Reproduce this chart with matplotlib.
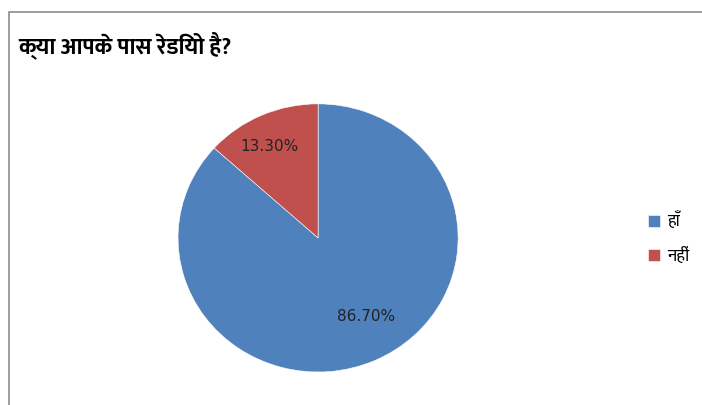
import matplotlib.pyplot as plt
import numpy as np
from matplotlib import font_manager, ft2font
from matplotlib.patches import Rectangle

# data
labels = ["हाँ", "नहीं"]
values = [86.7, 13.3]
colors = ["#4F81BD", "#C0504D"]
title = "क्या आपके पास रेडियो है?"


def find_deva_fonts():
    # every installed font file that has Devanagari glyphs
    found = []
    for path in font_manager.findSystemFonts():
        try:
            f = ft2font.FT2Font(path)
            cmap = f.get_charmap()
        except Exception:
            continue
        if 0x0915 in cmap and 0x093E in cmap:
            found.append(path)
    return found


deva_paths = find_deva_fonts()
bold = None
other = None
for p in deva_paths:
    name = font_manager.FontProperties(fname=p).get_name()
    if "bold" in p.lower():
        bold = bold or name
    else:
        other = other or name
bold = bold or other

fam = ([bold] if bold else []) + ["DejaVu Sans"]
plt.rcParams["font.family"] = fam

fig = plt.figure(figsize=(7.02, 4.05), dpi=100)

# outer chart frame (cut off on right and bottom as in the source)
fig.patches.append(Rectangle((9 / 702, -0.05), 1.0, 1 - 12 / 405 + 0.05,
                             transform=fig.transFigure, fill=False,
                             edgecolor="#8c8c8c", linewidth=1.2))

fig.text(18 / 702, 1 - 45 / 405, title, fontsize=16.5, fontweight="bold",
         va="center", ha="left")

ax = fig.add_axes([0.2536, 0.0815, 0.399, 0.662])
wedges, texts, autotexts = ax.pie(values, colors=colors, startangle=90,
                                  counterclock=False, autopct="%.2f%%",
                                  pctdistance=0.7,
                                  wedgeprops=dict(edgecolor="white", linewidth=0.4),
                                  textprops=dict(fontsize=11, color="#222222",
                                                 family="DejaVu Sans"))
ax.set_aspect("auto")
ax.set_xlim(-1, 1)
ax.set_ylim(-1, 1)

# nudge percent labels the way Excel placed them
dists = [0.64, 0.75]
shift = [0.08, -0.04]
for w, t, d, s in zip(wedges, autotexts, dists, shift):
    ang = np.deg2rad((w.theta1 + w.theta2) / 2)
    t.set_position((d * np.cos(ang) + s, d * np.sin(ang)))

leg = fig.legend(wedges, labels, loc="center left",
                 bbox_to_anchor=(632 / 702, 1 - 239 / 405), frameon=False,
                 prop=dict(family=fam, size=12.5, weight="normal"),
                 handlelength=0.7, handleheight=0.7,
                 handletextpad=0.4, labelspacing=1.0)

fig.savefig("out.png", dpi=100)
